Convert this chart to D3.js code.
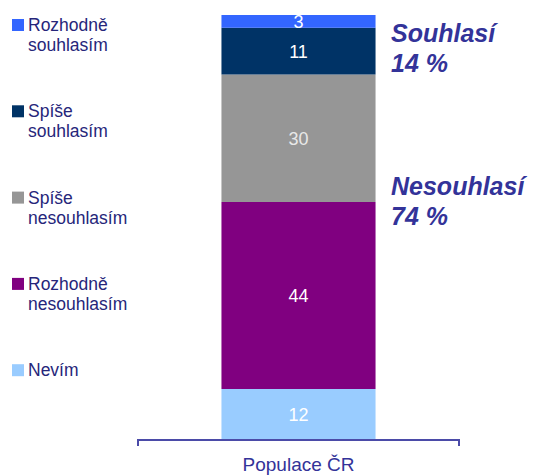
<!DOCTYPE html>
<html>
<head>
<meta charset="utf-8">
<script src="https://cdn.jsdelivr.net/npm/d3@7"></script>
<style>
  body { margin: 0; background: #fff; }
  text { font-family: "Liberation Sans", Arial, sans-serif; }
</style>
</head>
<body>
<div id="vis-container"></div>
<script>
// data (top to bottom in the bar)
const categories = ["Rozhodně souhlasím", "Spíše souhlasím", "Spíše nesouhlasím", "Rozhodně nesouhlasím", "Nevím"];
const values = [3, 11, 30, 44, 12];
const colors = ["#3366FF", "#003366", "#969696", "#800080", "#99CCFF"];
const groupName = ["Populace ČR"];
const summaryLabels = [["Souhlasí", "14 %"], ["Nesouhlasí", "74 %"]];

let width = 534, height = 475;

let svg = d3.select("#vis-container").append("svg")
    .attr("width", width).attr("height", height);

// scales
let xScale = d3.scaleBand().domain(groupName).range([138, 459]).paddingInner(0.52).paddingOuter(0.26);
let yScale = d3.scaleLinear().domain([0, 100]).range([440, 15]);

// stack from bottom (last category) upwards
let row = {};
categories.forEach((c, i) => row[c] = values[i]);
let stacked = d3.stack().keys(categories.slice().reverse())([row]);

let bars = svg.append("g");
stacked.forEach(s => {
    let d = s[0];
    let i = categories.indexOf(s.key);
    bars.append("rect")
        .attr("x", xScale(groupName[0]))
        .attr("width", xScale.bandwidth())
        .attr("y", yScale(d[1]))
        .attr("height", yScale(d[0]) - yScale(d[1]))
        .attr("fill", colors[i]);
    bars.append("text")
        .attr("x", xScale(groupName[0]) + xScale.bandwidth() / 2)
        .attr("y", (yScale(d[0]) + yScale(d[1])) / 2)
        .attr("dy", "0.36em")
        .attr("text-anchor", "middle")
        .style("font-size", "18px")
        .style("fill", i == 2 ? "#e8e8e8" : "#ffffff")
        .text(values[i]);
});

// x axis
let axis = svg.append("g")
    .attr("transform", "translate(0,440)")
    .call(d3.axisBottom(xScale).tickSize(0).tickPadding(18));
axis.select(".domain").attr("d", "M138,6V0H459V6").attr("stroke", "#4B4BA8").attr("stroke-width", 2);
axis.selectAll("text").style("font-size", "19px").style("fill", "#333399")
    .style("font-family", "Liberation Sans, Arial, sans-serif");

// legend
let legend = svg.append("g");
categories.forEach((c, i) => {
    let y0 = 19 + i * 86.3;
    legend.append("rect").attr("x", 12).attr("y", y0).attr("width", 12).attr("height", 12).attr("fill", colors[i]);
    let words = c.split(" ");
    let t = legend.append("text").attr("x", 28).attr("y", y0 + 12)
        .style("font-size", "17.5px").style("fill", "#26267A");
    words.forEach((w, j) => {
        t.append("tspan").attr("x", 28).attr("dy", j == 0 ? 0 : 20).text(w);
    });
});

// summary labels on the right
let sumY = [42, 195];
summaryLabels.forEach((lab, i) => {
    let t = svg.append("text").attr("x", 391).attr("y", sumY[i])
        .style("font-size", "25px").style("font-weight", "bold").style("font-style", "italic")
        .style("fill", "#333399");
    lab.forEach((l, j) => t.append("tspan").attr("x", 391).attr("dy", j == 0 ? 0 : 30).text(l));
});
</script>
</body>
</html>
